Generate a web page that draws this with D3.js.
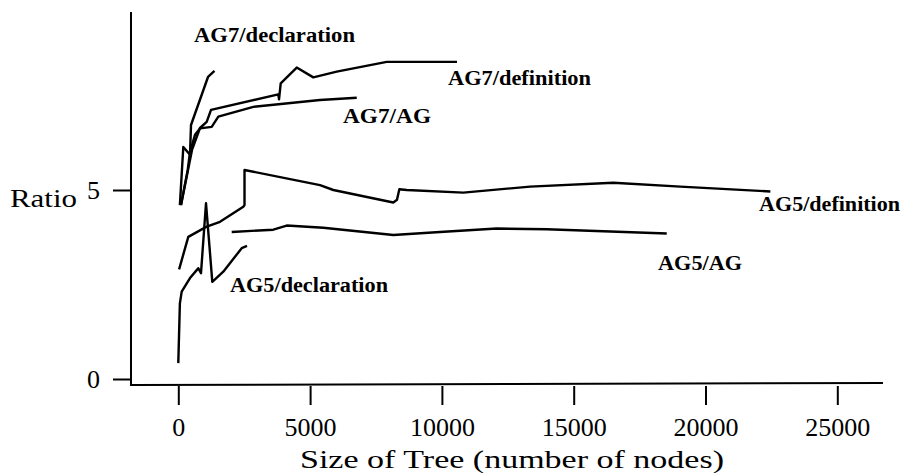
<!DOCTYPE html>
<html>
<head>
<meta charset="utf-8">
<script src="https://cdn.jsdelivr.net/npm/d3@7"></script>
<style>
	body { margin: 0; background: #fff; }
	svg { display: block; }
	text { font-family: "Liberation Serif", "Times New Roman", serif; fill: #000; }
</style>
</head>
<body>
<div id="chart"></div>
<script>
(function () {

	// values: [tree size, ratio]
	var ag7Declaration = [[60, 4.6], [190, 6.14], [444, 5.93], [482, 6.72], [1127, 7.99], [1373, 8.15]];
	var ag7Definition = [[102, 4.6], [406, 5.66], [520, 6.06], [823, 6.64], [1077, 6.8], [1241, 7.12],
		[3794, 7.53], [3821, 7.4], [3885, 7.82], [4492, 8.24], [5122, 7.98], [6010, 8.13],
		[7907, 8.39], [9170, 8.39], [10574, 8.39]];
	var ag7AG = [[102, 4.6], [357, 5.53], [444, 6.01], [634, 6.46], [823, 6.63], [1267, 6.67],
		[1518, 6.94], [2846, 7.2], [5376, 7.38], [6769, 7.44]];
	var ag5Declaration = [[0, 0.42], [60, 2.0], [129, 2.31], [216, 2.41], [444, 2.67], [698, 2.88], [759, 2.93],
		[861, 2.8], [1051, 4.65], [1290, 2.57], [1707, 2.84], [2405, 3.46], [2607, 3.52]];
	var ag5Definition = [[30, 2.9], [379, 3.76], [1077, 4.03], [1582, 4.16], [2466, 4.56], [2512, 4.6],
		[2512, 5.53], [5376, 5.13], [5881, 5.0], [8157, 4.67], [8297, 4.74], [8385, 5.02],
		[8666, 5.0], [10813, 4.93], [13344, 5.09], [16504, 5.19], [19046, 5.09], [22461, 4.96]];
	var ag5AG = [[2026, 3.89], [3604, 3.95], [4113, 4.06], [5501, 4.0], [8157, 3.81], [9929, 3.89],
		[12080, 3.98], [13977, 3.96], [18530, 3.85]];

	var seriesNames = ["AG7/declaration", "AG7/definition", "AG7/AG", "AG5/declaration", "AG5/definition", "AG5/AG"];
	var seriesData = [ag7Declaration, ag7Definition, ag7AG, ag5Declaration, ag5Definition, ag5AG];
	// where each name is written, in data units
	var labelAt = [[596, 8.92], [10232, 7.78], [6249, 6.77], [1962, 2.30], [22032, 4.44], [18200, 2.88]];
	var labelWidth = [161, 143, 88, 158, 141, 84];

	var xTicks = [0, 5000, 10000, 15000, 20000, 25000];
	var yTicks = [0, 5];
	var xTitle = "Size of Tree (number of nodes)";
	var yTitle = "Ratio";

	var width = 911, height = 473;
	var serif = "'Liberation Serif', 'Times New Roman', serif";

	var x = d3.scaleLinear().domain([0, 25000]).range([178.3, 837.3]);
	var y = d3.scaleLinear().domain([0, 5]).range([379, 190]);

	var svg = d3.select("#chart")
				.append("svg")
				.attr("width", width)
				.attr("height", height)
				;

	// axis frame lines
	svg.append("line")
		.attr("x1", 131).attr("x2", 131)
		.attr("y1", 12).attr("y2", 386)
		.attr("stroke", "#000").attr("stroke-width", 2);
	svg.append("line")
		.attr("x1", 130).attr("x2", 883)
		.attr("y1", 385).attr("y2", 383)
		.attr("stroke", "#000").attr("stroke-width", 2);

	var xAxis = svg.append("g")
		.attr("transform", "translate(0,386)")
		.call(d3.axisBottom(x).tickValues(xTicks).tickSize(19).tickPadding(13).tickFormat(d3.format("d")));
	var yAxis = svg.append("g")
		.attr("transform", "translate(131,0)")
		.call(d3.axisLeft(y).tickValues(yTicks).tickSize(18).tickPadding(13).tickFormat(d3.format("d")));

	[xAxis, yAxis].forEach(function(g) {
		g.attr("font-family", serif).attr("font-size", 26);
		g.select(".domain").remove();
		g.selectAll(".tick line").attr("stroke", "#000").attr("stroke-width", 2);
		g.selectAll(".tick text")
			.attr("font-family", serif)
			.attr("font-size", 26)
			.attr("fill", "#000");
	});

	svg.append("text")
		.attr("x", 300)
		.attr("y", 468)
		.attr("font-family", serif)
		.attr("font-size", 26)
		.attr("textLength", 424)
		.attr("lengthAdjust", "spacingAndGlyphs")
		.text(xTitle);

	svg.append("text")
		.attr("x", 10)
		.attr("y", 207)
		.attr("font-family", serif)
		.attr("font-size", 26)
		.attr("textLength", 67)
		.attr("lengthAdjust", "spacingAndGlyphs")
		.text(yTitle);

	var line = d3.line()
		.x(function(d) { return x(d[0]); })
		.y(function(d) { return y(d[1]); });

	svg.selectAll("path.series")
		.data(seriesData)
		.enter()
		.append("path")
		.attr("class", "series")
		.attr("d", line)
		.attr("fill", "none")
		.attr("stroke", "#000")
		.attr("stroke-width", 2.4)
		.attr("stroke-linejoin", "round")
		;

	svg.selectAll("text.label")
		.data(seriesNames)
		.enter()
		.append("text")
		.attr("class", "label")
		.attr("x", function(d, i) { return x(labelAt[i][0]); })
		.attr("y", function(d, i) { return y(labelAt[i][1]); })
		.attr("textLength", function(d, i) { return labelWidth[i]; })
		.attr("lengthAdjust", "spacingAndGlyphs")
		.attr("font-family", serif)
		.attr("font-size", 20)
		.attr("font-weight", "bold")
		.text(function(d) { return d; })
		;

}) ();
</script>
</body>
</html>
